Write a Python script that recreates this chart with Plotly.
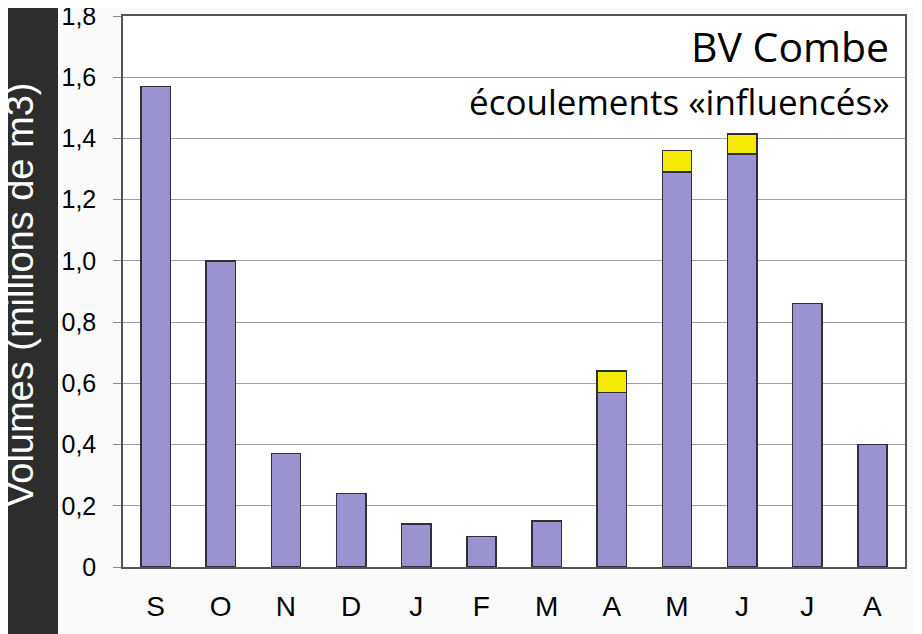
import plotly.graph_objects as go

months = ["S", "O", "N", "D", "J", "F", "M", "A", "M", "J", "J", "A"]
base_vol = [1.57, 1.00, 0.37, 0.24, 0.14, 0.10, 0.15, 0.57, 1.29, 1.35, 0.86, 0.40]
influence_vol = [0, 0, 0, 0, 0, 0, 0, 0.07, 0.07, 0.065, 0, 0]
y_tickvals = [0, 0.2, 0.4, 0.6, 0.8, 1.0, 1.2, 1.4, 1.6, 1.8]
y_ticktext = ["0", "0,2", "0,4", "0,6", "0,8", "1,0", "1,2", "1,4", "1,6", "1,8"]

xs = list(range(len(months)))
W, H = 922, 634
OFF = 8
L, R, T, B = 123 - OFF, 17 + OFF, 16 - OFF, 67 + OFF
pw = W - L - R
ph = H - T - B
bottom = H - B


def px(xp):
    return (xp - OFF - L) / pw


def py(yp):
    return (bottom - (yp - OFF)) / ph


fig = go.Figure()
fig.add_trace(go.Bar(x=xs, y=base_vol, marker=dict(color="#9a93cf", line=dict(color="#2f2f3a", width=1.5)),
                     width=0.45, hoverinfo="y"))
fig.add_trace(go.Bar(x=xs, y=influence_vol, marker=dict(color="#f4ea06", line=dict(color="#2f2f3a", width=1.5)),
                     width=0.45, hoverinfo="y"))

fig.update_layout(
    width=W, height=H,
    barmode="stack",
    showlegend=False,
    margin=dict(l=L, r=R, t=T, b=B, autoexpand=False),
    paper_bgcolor="#fafafa",
    plot_bgcolor="white",
    font=dict(family="Liberation Sans, Arial", color="black", size=24),
    xaxis=dict(tickvals=xs, ticktext=months, range=[-0.5, 11.5], showline=True, mirror=True,
               linecolor="#555555", linewidth=1.5, showgrid=False, ticks="", automargin=False,
               tickfont=dict(size=28), ticklabelstandoff=14),
    yaxis=dict(tickvals=y_tickvals, ticktext=y_ticktext, range=[0, 1.8], showline=True, mirror=True,
               linecolor="#555555", linewidth=1.5, gridcolor="#a0a0a0", gridwidth=1, automargin=False,
               ticks="outside", ticklen=8, tickcolor="#888888", tickfont=dict(size=25),
               ticklabelstandoff=12, ticklabeloverflow="allow"),
    shapes=[dict(type="rect", xref="paper", yref="paper",
                 x0=-L / pw, x1=px(58), y0=-B / ph, y1=1 + T / ph,
                 fillcolor="#2d2d2d", line=dict(width=0), layer="below")],
    annotations=[
        dict(text="Volumes (millions de m3)", xref="paper", yref="paper",
             x=px(20), y=py(295), textangle=-90,
             showarrow=False, font=dict(family="Liberation Sans, Arial", size=38, color="white"),
             xanchor="center", yanchor="middle"),
        dict(text="BV Combe", xref="paper", yref="paper", x=px(891), y=py(46),
             showarrow=False, xanchor="right", yanchor="middle",
             font=dict(family="Open Sans", size=41, color="black")),
        dict(text="écoulements «influencés»", xref="paper", yref="paper", x=px(891),
             y=py(101), showarrow=False, xanchor="right", yanchor="middle",
             font=dict(family="Open Sans", size=35, color="black")),
    ],
)

fig.write_html("out.html")
